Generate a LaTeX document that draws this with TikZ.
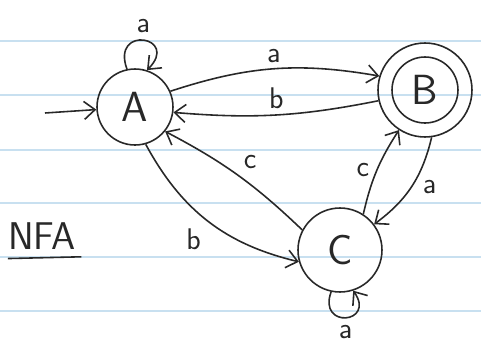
\documentclass[tikz,border=0pt]{standalone}
\usepackage{amsmath}
\usepackage[dvipsnames, x11names]{xcolor}
\usepackage{tikz}
\usetikzlibrary{automata}
\usetikzlibrary{positioning}
\usetikzlibrary{arrows.meta}

\definecolor{ink}{RGB}{40,40,40}
\definecolor{ruling}{RGB}{200,224,240}

\tikzset{
    pen/.style={draw=ink, line width=0.9pt},
    edge/.style={pen, -{Straight Barb[length=2.2mm, width=3.6mm]}},
    nfastate/.style={state, pen, fill=none, text=ink, font=\sffamily\fontsize{24}{28}\selectfont},
    lbl/.style={text=ink, font=\sffamily\fontsize{17}{19}\selectfont, inner sep=1pt}
}

\begin{document}
\begin{tikzpicture}[x=0.02cm, y=-0.02cm]
    \useasboundingbox (0,0) rectangle (481,342);
    % Paper
    \fill[white] (0,0) rectangle (481,342);
    \foreach \y in {41,95,150,203,257,311}
        \draw[ruling, line width=0.6pt] (0,\y) -- (481,\y);

    % States
    \node[nfastate, minimum size=1.52cm] (A) at (135,107) {A};
    \node[nfastate, minimum size=1.88cm] (B) at (425,90) {B};
    \draw[pen] (B.center) circle (0.66cm);
    \node[nfastate, minimum size=1.68cm] (C) at (340,250) {C};

    % Start arrow
    \coordinate (start) at (45,113);
    \draw[edge] (start) -- (A);

    % Transitions
    \draw[edge] (A.24) to[bend left=14] node[lbl, above=2pt] {a} (B.163);
    \draw[edge] (B.193) to[bend left=8] node[lbl, above=2pt] {b} (A.352);
    \draw[edge] (A.286) to[bend right=24] node[lbl, below left=4pt] {b} (C.196);
    \draw[edge] (C.152) to[bend right=8] node[lbl, above right=3pt] {c} (A.321);
    \draw[edge] (C.57) to[bend left=10] node[lbl, left=3pt] {c} (B.237);
    \draw[edge] (B.278) to[bend left=20] node[lbl, right=5pt] {a} (C.37);

    % Self loops
    \draw[edge] (A.102) .. controls +(110:0.95cm) and +(45:0.95cm) .. (A.72)
        node[lbl, pos=0.5, above=3pt] {a};
    \draw[edge] (C.258) .. controls +(250:0.8cm) and +(305:0.8cm) .. (C.288)
        node[lbl, pos=0.5, below=3pt] {a};

    % Title
    \node[text=ink, font=\sffamily\fontsize{22}{26}\selectfont, inner sep=0pt] (title) at (42,236) {NFA};
    \draw[pen] ([yshift=-5pt]title.south west) -- ([xshift=3pt, yshift=-4pt]title.south east);
\end{tikzpicture}
\end{document}
